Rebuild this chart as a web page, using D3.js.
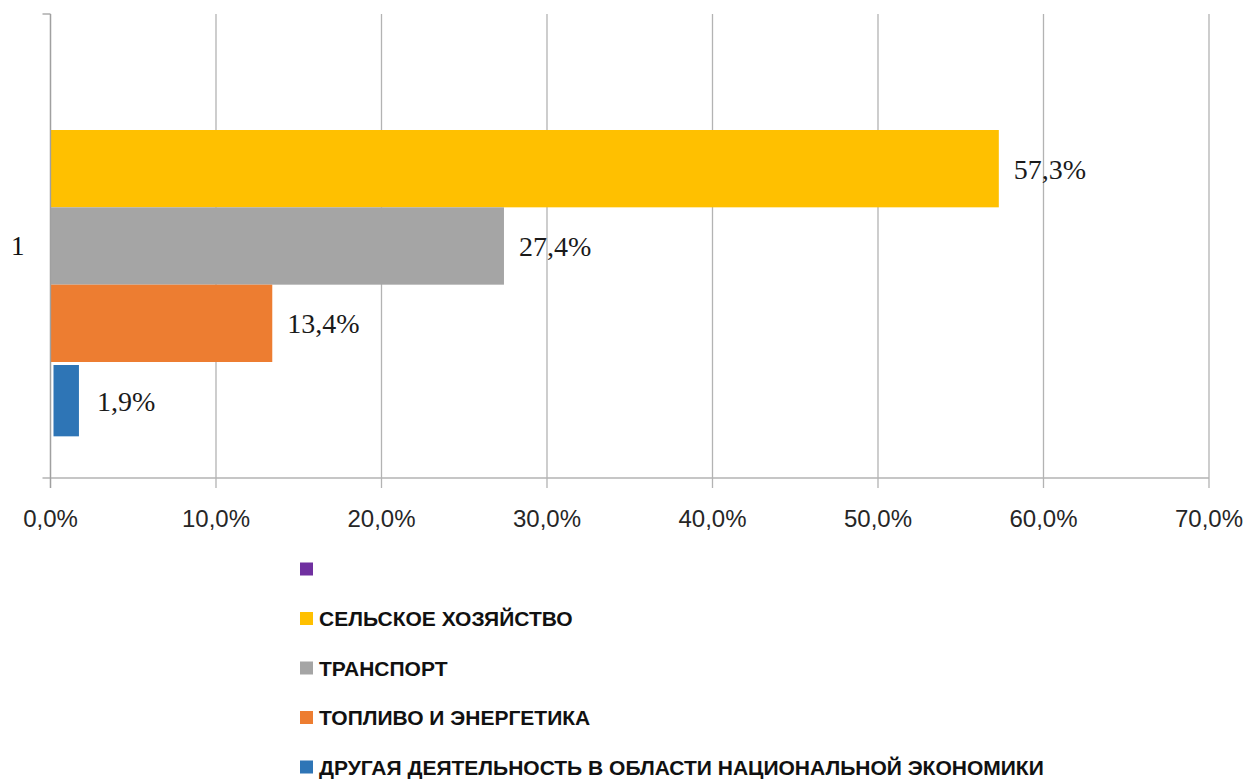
<!DOCTYPE html>
<html>
<head>
<meta charset="utf-8">
<script src="https://cdn.jsdelivr.net/npm/d3@7"></script>
<style>
  body { margin: 0; background: #fff; }
</style>
</head>
<body>
<svg id="chart" width="1248" height="780"></svg>
<script>
// series, top to bottom in the bar group
const seriesNames = ["", "СЕЛЬСКОЕ ХОЗЯЙСТВО", "ТРАНСПОРТ", "ТОПЛИВО И ЭНЕРГЕТИКА", "ДРУГАЯ ДЕЯТЕЛЬНОСТЬ В ОБЛАСТИ НАЦИОНАЛЬНОЙ ЭКОНОМИКИ"];
const seriesValues = [0, 57.3, 27.4, 13.4, 1.9];
const seriesColors = ["#7030A0", "#FFC000", "#A5A5A5", "#ED7D31", "#2E75B6"];
const categories = ["1"];
const xTicks = [0, 10, 20, 30, 40, 50, 60, 70];

(function () {
  const svg = d3.select("#chart");
  const margin = { top: 14, left: 50.5, right: 39, bottom: 302 };
  const w = 1248, h = 780;
  const fmt = (v) => v.toFixed(1).replace(".", ",") + "%";

  const x = d3.scaleLinear().domain([0, 70]).range([margin.left, w - margin.right]);
  const y = d3.scaleBand().domain(categories).range([margin.top, h - margin.bottom]);
  const inner = d3.scaleBand().domain(d3.range(seriesNames.length))
    .range([0, y.bandwidth()]).paddingOuter(0.5);

  // gridlines
  svg.append("g")
    .selectAll("line")
    .data(xTicks)
    .join("line")
    .attr("x1", (d) => x(d)).attr("x2", (d) => x(d))
    .attr("y1", margin.top).attr("y2", h - margin.bottom + 10)
    .attr("stroke", "#b3b3b3").attr("stroke-width", 1.3);

  // category axis ticks (top & bottom of category)
  svg.append("line")
    .attr("x1", margin.left - 8).attr("x2", x(70))
    .attr("y1", h - margin.bottom).attr("y2", h - margin.bottom)
    .attr("stroke", "#b3b3b3").attr("stroke-width", 1.3);
  svg.append("line")
    .attr("x1", margin.left - 8).attr("x2", margin.left)
    .attr("y1", margin.top).attr("y2", margin.top)
    .attr("stroke", "#a0a0a0").attr("stroke-width", 1.3);

  // tick labels
  svg.append("g")
    .selectAll("text")
    .data(xTicks)
    .join("text")
    .attr("x", (d) => x(d))
    .attr("y", 527)
    .attr("text-anchor", "middle")
    .attr("style", "font-family: 'Liberation Sans', Arial, sans-serif; font-size: 24px; fill: #262626;")
    .text((d) => fmt(d));

  svg.append("text")
    .attr("x", 11)
    .attr("y", y(categories[0]) + y.bandwidth() / 2 + 9)
    .attr("style", "font-family: 'Liberation Serif', 'Times New Roman', serif; font-size: 27px; fill: #111;")
    .text(categories[0]);

  // bars (the last series is drawn with a thin white inset border)
  const inset = (i) => (i === 4 ? 3 : 0);
  const g = svg.append("g").attr("transform", `translate(0, ${y(categories[0])})`);
  g.selectAll("rect")
    .data(seriesValues)
    .join("rect")
    .attr("x", (d, i) => x(0) + inset(i))
    .attr("y", (d, i) => inner(i) + inset(i))
    .attr("width", (d, i) => Math.max(0, x(d) - x(0) - 2 * inset(i)))
    .attr("height", (d, i) => inner.bandwidth() - 2 * inset(i))
    .attr("fill", (d, i) => seriesColors[i]);

  // left axis line over the bars
  svg.append("line")
    .attr("x1", margin.left).attr("x2", margin.left)
    .attr("y1", margin.top).attr("y2", h - margin.bottom + 10)
    .attr("stroke", "#a0a0a0").attr("stroke-width", 1.3);

  g.selectAll("text")
    .data(seriesValues)
    .join("text")
    .filter((d) => d > 0)
    .attr("x", (d) => x(d) + 15)
    .attr("y", (d) => inner(seriesValues.indexOf(d)) + inner.bandwidth() / 2 + 10)
    .attr("style", "font-family: 'Liberation Serif', 'Times New Roman', serif; font-size: 28px; fill: #1a1a1a;")
    .text((d) => fmt(d));

  // legend
  const lg = svg.append("g").attr("transform", "translate(300, 569)");
  const item = lg.selectAll("g")
    .data(seriesNames)
    .join("g")
    .attr("transform", (d, i) => `translate(0, ${i * 49.5})`);
  item.append("rect")
    .attr("x", 0).attr("y", -6.5)
    .attr("width", 13).attr("height", 13)
    .attr("fill", (d, i) => seriesColors[i]);
  item.append("text")
    .attr("x", 19).attr("y", 7.5)
    .attr("style", "font-family: 'Liberation Sans', Arial, sans-serif; font-weight: bold; font-size: 21px; fill: #111;")
    .text((d) => d);
})();
</script>
</body>
</html>
